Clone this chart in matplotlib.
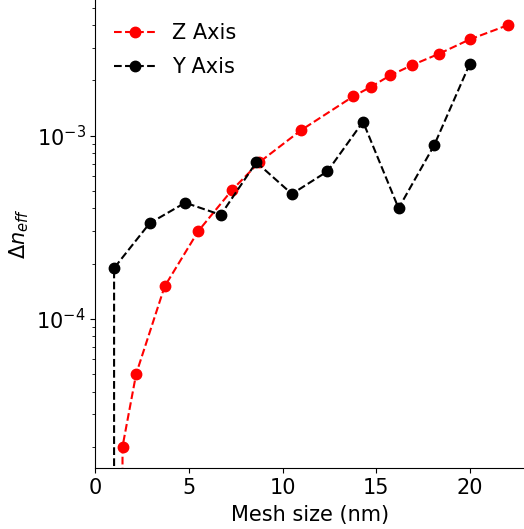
# Convergencia de Delta n_eff frente al tamano de malla
import numpy as np
import matplotlib.pyplot as plt

# DATOS; el ultimo punto de cada serie es la malla de referencia (0)
mesh_z = np.array([22.04, 20.0, 18.37, 16.94, 15.75, 14.7, 13.79, 10.99,
                   8.76, 7.32, 5.5, 3.7, 2.18, 1.45, 1.0])
dn_z = np.array([4.01e-3, 3.35e-3, 2.80e-3, 2.43e-3, 2.13e-3, 1.84e-3, 1.64e-3,
                 1.07e-3, 7.15e-4, 5.07e-4, 3.01e-4, 1.50e-4, 5.0e-5, 2.0e-5, 0.0])

mesh_y = np.array([20.0, 18.1, 16.2, 14.3, 12.4, 10.5, 8.6, 6.7, 4.8, 2.9, 1.0, 0.5])
dn_y = np.array([2.46e-3, 8.85e-4, 4.01e-4, 1.19e-3, 6.38e-4, 4.80e-4, 7.15e-4,
                 3.69e-4, 4.30e-4, 3.32e-4, 1.89e-4, 0.0])

# FIGURA
fig = plt.figure(figsize=(5.24, 5.29), dpi=100)
ax = fig.add_axes([0.182, 0.1153, 0.818, 0.8847])

ax.plot(mesh_z, dn_z, 'r--o', linewidth=1.5, markersize=7.5, label="Z Axis")
ax.plot(mesh_y, dn_y, 'k--o', linewidth=1.5, markersize=7.5, label="Y Axis")

ax.set_yscale('log')
ax.set_xlim(0, 22.9)
ax.set_ylim(1.53e-5, 5.5e-3)

ax.spines['top'].set_visible(False)
ax.spines['right'].set_visible(False)

ax.set_xlabel("Mesh size (nm)", fontsize=15, labelpad=5)
ax.set_ylabel(r"$\Delta n_{eff}$", fontsize=15)
ax.tick_params(axis='both', labelsize=15)

ax.legend(loc='upper left', bbox_to_anchor=(0, 0.99), frameon=False,
          fontsize=15, labelspacing=0.65)

fig.savefig("out.png", dpi=100)
